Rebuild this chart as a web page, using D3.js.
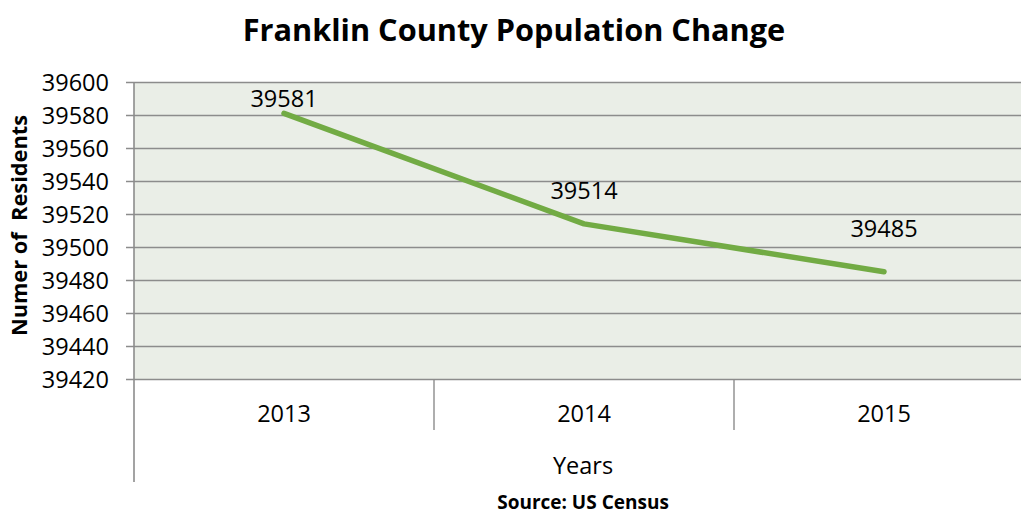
<!DOCTYPE html>
<html>
<head>
<meta charset="utf-8">
<script src="https://cdn.jsdelivr.net/npm/d3@7"></script>
<style>
  html, body { margin: 0; padding: 0; background: #ffffff; }
  svg { display: block; }
  text { font-family: "Open Sans", "Noto Sans", sans-serif; fill: #000; }
</style>
</head>
<body>
<svg id="chart" width="1021" height="518"></svg>
<script>
// ---- data ----
const years = ["2013", "2014", "2015"];
const residents = [39581, 39514, 39485];
const yTicks = [39420, 39440, 39460, 39480, 39500, 39520, 39540, 39560, 39580, 39600];
const labelOffsets = [0, 19, 29]; // extra lift of each data label above its point
const titleText = "Franklin County Population Change";
const yTitle = "Numer of  Residents";
const xTitle = "Years";
const sourceText = "Source: US Census";

// ---- layout ----
const plot = { left: 134, right: 1034, top: 82, bottom: 379 };
const svg = d3.select("#chart");

const x = d3.scaleBand().domain(years).range([plot.left, plot.right]).padding(0);
const y = d3.scaleLinear().domain([39420, 39600]).range([plot.bottom, plot.top]);

// plot background
svg.append("rect")
  .attr("x", plot.left).attr("y", plot.top)
  .attr("width", plot.right - plot.left).attr("height", plot.bottom - plot.top)
  .attr("fill", "#eaeee7");

// gridlines + y tick labels
const yAxis = d3.axisLeft(y).tickValues(yTicks).tickFormat(d3.format("d"))
  .tickSize(-(plot.right - plot.left) - 8).tickPadding(18);
const gy = svg.append("g").attr("transform", `translate(${plot.left - 8},0)`).call(yAxis);
gy.select(".domain").remove();
gy.selectAll(".tick line").attr("stroke", "#8c8c8c").attr("stroke-width", 1.6);
gy.selectAll(".tick text").attr("font-size", 23.5).attr("fill", "#000")
  .attr("x", -17).attr("dy", "0.36em").style("font-family", '"Open Sans", sans-serif');

// y axis line
svg.append("line")
  .attr("x1", plot.left).attr("x2", plot.left)
  .attr("y1", plot.top).attr("y2", 482)
  .attr("stroke", "#8c8c8c").attr("stroke-width", 1.6);

// category axis: dividers between categories
const boundaries = years.map(d => x(d)).concat([x(years[years.length - 1]) + x.bandwidth()]);
svg.append("g").selectAll("line").data(boundaries.slice(1)).join("line")
  .attr("x1", d => d).attr("x2", d => d)
  .attr("y1", plot.bottom).attr("y2", 430)
  .attr("stroke", "#8c8c8c").attr("stroke-width", 1.4);

svg.append("g").selectAll("text").data(years).join("text")
  .attr("x", d => x(d) + x.bandwidth() / 2)
  .attr("y", 421.5)
  .attr("text-anchor", "middle")
  .attr("font-size", 23.5)
  .text(d => d);

// line
const pts = years.map((d, i) => ({ year: d, value: residents[i] }));
const line = d3.line().x(d => x(d.year) + x.bandwidth() / 2).y(d => y(d.value));
svg.append("path").datum(pts)
  .attr("d", line)
  .attr("fill", "none")
  .attr("stroke", "#72ab44")
  .attr("stroke-width", 5.5)
  .attr("stroke-linecap", "round")
  .attr("stroke-linejoin", "round");

// data labels
svg.append("g").selectAll("text").data(pts).join("text")
  .attr("x", d => x(d.year) + x.bandwidth() / 2)
  .attr("y", (d, i) => y(d.value) - 6 - labelOffsets[i])
  .attr("text-anchor", "middle")
  .attr("font-size", 23.5)
  .text(d => d.value);

// titles
svg.append("text")
  .attr("x", 514).attr("y", 41)
  .attr("text-anchor", "middle")
  .attr("font-size", 30.7).attr("font-weight", "bold")
  .text(titleText);

svg.append("text")
  .attr("transform", `translate(27, ${(plot.top + plot.bottom) / 2 - 5}) rotate(-90)`)
  .attr("text-anchor", "middle")
  .attr("font-size", 21.8).attr("font-weight", "bold")
  .attr("xml:space", "preserve").style("white-space", "pre")
  .text(yTitle);

svg.append("text")
  .attr("x", 583).attr("y", 474)
  .attr("text-anchor", "middle")
  .attr("font-size", 23.5)
  .text(xTitle);

svg.append("text")
  .attr("x", 583).attr("y", 509)
  .attr("text-anchor", "middle")
  .attr("font-size", 19).attr("font-weight", "bold")
  .text(sourceText);
</script>
</body>
</html>
